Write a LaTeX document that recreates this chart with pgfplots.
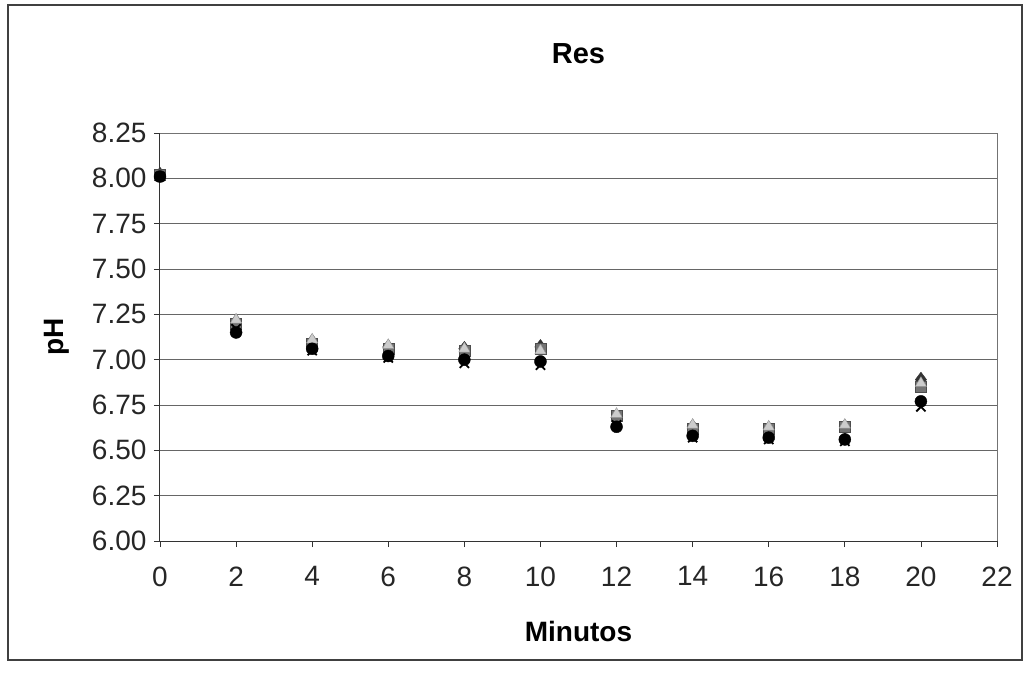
\documentclass[border=0pt]{standalone}
\usepackage{pgfplots}
\pgfplotsset{compat=1.18}
\usepackage{fontspec}
\setmainfont{Liberation Sans}
\begin{document}
\begin{tikzpicture}[x=1pt,y=1pt]
% page box and outer chart frame
\path[use as bounding box] (-160,-134) rectangle (868,541);
\draw[black!75, line width=1.2pt] (-152,-119) rectangle (862,536);
\begin{axis}[
  at={(0,0)}, anchor=south west,
  scale only axis, width=837pt, height=408pt,
  xmin=0, xmax=22, ymin=6, ymax=8.25,
  xtick={0,2,...,22},
  ytick={6,6.25,...,8.25},
  yticklabel style={/pgf/number format/fixed, /pgf/number format/fixed zerofill, /pgf/number format/precision=2},
  /pgf/number format/assume math mode=true,
  ticklabel style={font=\fontsize{28}{30}\selectfont, text=black!85},
  xticklabel style={yshift=-16pt},
  yticklabel style={xshift=-4pt},
  tick align=outside, major tick length=6pt,
  tick style={black!80, line width=0.8pt},
  axis line style={black!80, line width=1pt},
  axis x line*=bottom, axis y line*=left,
  ymajorgrids, grid style={black!60, line width=0.8pt},
  xlabel={\textbf{Minutos}}, ylabel={\textbf{pH}},
  xlabel style={font=\fontsize{28}{30}\selectfont, yshift=-28pt},
  ylabel style={font=\fontsize{28}{30}\selectfont, yshift=16pt},
  title={\textbf{Res}},
  title style={font=\fontsize{29}{32}\selectfont, yshift=60pt},
  clip=false,
]
% plot area border (top and right)
\draw[black!55, line width=0.8pt] (rel axis cs:0,1) -- (rel axis cs:1,1) -- (rel axis cs:1,0);

\addplot[only marks, mark=diamond*, mark size=7.5pt, black!80, mark options={fill=black!80}] coordinates {
 (0,8.02) (2,7.21) (4,7.10) (6,7.07) (8,7.06) (10,7.07) (12,6.68) (14,6.63) (16,6.62) (18,6.63) (20,6.89)};
\addplot[only marks, mark=square*, mark size=5.5pt, black!70, mark options={fill=black!55}] coordinates {
 (0,8.02) (2,7.20) (4,7.09) (6,7.06) (8,7.05) (10,7.06) (12,6.69) (14,6.62) (16,6.62) (18,6.63) (20,6.85)};
\addplot[only marks, mark=triangle*, mark size=6.5pt, black!40, mark options={fill=black!20}] coordinates {
 (0,8.01) (2,7.22) (4,7.11) (6,7.08) (8,7.06) (10,7.05) (12,6.70) (14,6.64) (16,6.63) (18,6.64) (20,6.87)};
\addplot[only marks, mark=x, mark size=6.5pt, black, line width=1.8pt] coordinates {
 (0,8.01) (2,7.17) (4,7.05) (6,7.01) (8,6.98) (10,6.97) (12,6.64) (14,6.57) (16,6.56) (18,6.55) (20,6.74)};
\addplot[only marks, mark=*, mark size=6pt, black, mark options={fill=black}] coordinates {
 (0,8.01) (2,7.15) (4,7.06) (6,7.02) (8,7.00) (10,6.99) (12,6.63) (14,6.58) (16,6.57) (18,6.56) (20,6.77)};
\end{axis}
\end{tikzpicture}
\end{document}
